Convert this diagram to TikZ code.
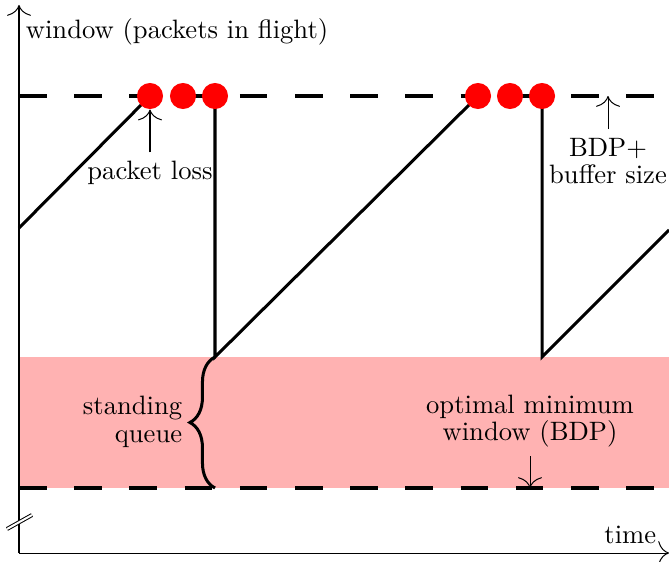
\documentclass[tikz,border=0pt]{standalone}
\usetikzlibrary{decorations.pathreplacing,arrows.meta}
\tikzset{
  limit/.style={very thick,dash pattern=on 11pt off 11pt},
  loss/.style={circle,fill=red,inner sep=0pt,minimum size=10.4pt},
}
\begin{document}
\begin{tikzpicture}[x=0.014cm,y=0.014cm,>={To[length=4.3pt,width=9.5pt]},
  font={\fontsize{10.6pt}{11pt}\selectfont}]
\useasboundingbox (-19,-8) rectangle (650,553);

% Standing queue band
\fill[red!30] (0,65) rectangle (650,196);

% Axes
\coordinate (o) at (0,0);
\coordinate (ytop) at (0,548);
\coordinate (xend) at (650,0);
\draw[->] (o) -- (ytop);
\draw[->] (o) -- (xend);
\node[anchor=west] (ylab) at (-2,521) {window (packets in flight)};
\node[anchor=south east] (xlab) at (646,0) {time};

% Axis break
\draw[double,double distance=0.8pt] (-12,24) -- (13,38);

% Limits
\coordinate (top-l) at (0,457);
\coordinate (top-r) at (650,457);
\coordinate (bot-l) at (0,65);
\coordinate (bot-r) at (650,65);
\draw[limit] (top-l) -- (top-r);
\draw[limit] (bot-l) -- (bot-r);

% Sawtooth
\coordinate (s0) at (0,325);
\coordinate (d1) at (196,196);
\coordinate (d2) at (523,196);
\coordinate (s3) at (650,323);
\draw[very thick] (s0) -- (131,457);
\draw[very thick] (196,457) -- (d1) -- (459,457);
\draw[very thick] (523,457) -- (d2) -- (s3);

% Losses
\foreach \i/\x in {1/131,2/164,3/196,4/459,5/491,6/523}
  \node[loss] (c\i) at (\x,457) {};

% Labels
\node (pl) at (131,380) {packet loss};
\draw[->] (pl) -- (c1.south);
\coordinate (bufpt) at (589,457);
\node[align=center] (buf) at (589,392) {BDP+\\buffer size};
\draw[->] (buf) -- (bufpt);
\coordinate (optpt) at (511,65);
\node[align=center] (opt) at (511,132) {optimal minimum\\window (BDP)};
\draw[->] (opt) -- (optpt);

% Standing queue
\coordinate (q-bot) at (196,65);
\draw[very thick,decorate,decoration={brace,amplitude=10pt}] (q-bot) -- (d1);
\node[anchor=east,align=right] (queue) at (172,131) {standing\\queue};
\end{tikzpicture}
\end{document}
